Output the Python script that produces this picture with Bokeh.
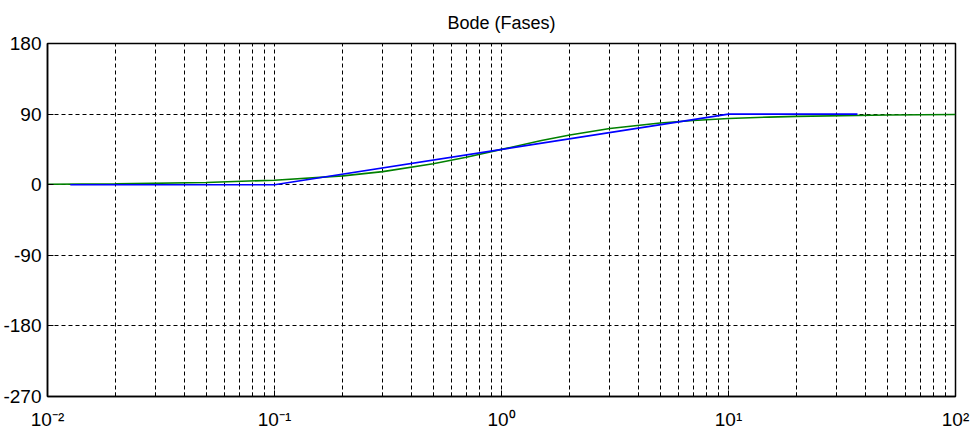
from bokeh.plotting import figure
from bokeh.models import FixedTicker, Range1d
from bokeh.embed import file_html
from bokeh.resources import INLINE

# Blue: asymptotic phase approximation
blue_w = [0.0126, 0.1, 10.0, 37.0]
blue_phase = [0.0, 0.0, 90.0, 90.0]

# Green: exact phase
green_w = [0.01, 0.02, 0.05, 0.1, 0.2, 0.3, 0.5, 0.7, 1.0, 1.5, 2.0, 3.0, 5.0, 7.0, 10.0, 15.0, 20.0, 50.0, 100.0]
green_phase = [0.6, 1.1, 2.9, 5.7, 11.3, 16.7, 26.6, 35.0, 45.0, 56.3, 63.4, 71.6, 78.7, 81.9, 84.3, 86.2, 87.1, 88.9, 89.4]

x_major = [0.01, 0.1, 1, 10, 100]
x_labels = ["10⁻²", "10⁻¹", "10⁰", "10¹", "10²"]
y_major = [-270, -180, -90, 0, 90, 180]
y_labels = ["-270", "-180", "-90", "0", "90", "180"]

x_minor = [m * d for d in [0.01, 0.1, 1, 10] for m in range(2, 10)]

p = figure(width=976, height=432, x_axis_type="log",
           x_range=Range1d(0.01, 100), y_range=Range1d(-270, 180),
           output_backend="svg", toolbar_location=None,
           min_border_left=40, min_border_right=21, min_border_top=0, min_border_bottom=33,
           title="Bode (Fases)")

p.title.align = "center"
p.title.vertical_align = "bottom"
p.title.text_font = "Liberation Sans"
p.title.text_font_size = "18px"
p.title.text_font_style = "normal"
p.title.text_color = "#000000"
p.title.text_line_height = 1.4
p.title.offset = 0
p.title.standoff = 21

p.xaxis.ticker = FixedTicker(ticks=x_major, minor_ticks=x_minor)
p.xaxis.major_label_overrides = {v: l for v, l in zip(x_major, x_labels)}
p.yaxis.ticker = FixedTicker(ticks=y_major)
p.yaxis.major_label_overrides = {v: l for v, l in zip(y_major, y_labels)}

for ax in (p.xaxis, p.yaxis):
    ax.major_label_text_font = "Liberation Sans"
    ax.major_label_text_font_size = "19px"
    ax.major_label_text_color = "#000000"
    ax.axis_line_color = "#000000"
    ax.axis_line_width = 1.5
    ax.major_tick_in = 6
    ax.major_tick_out = 0
    ax.major_tick_line_color = "#000000"
    ax.minor_tick_in = 4
    ax.minor_tick_out = 0
    ax.minor_tick_line_color = "#000000"

p.yaxis.major_label_standoff = 6
p.xaxis.major_label_standoff = 12
p.yaxis.minor_tick_line_color = None

p.xgrid.grid_line_color = "#000000"
p.xgrid.grid_line_dash = "4 3"
p.xgrid.grid_line_width = 1
p.xgrid.minor_grid_line_color = "#000000"
p.xgrid.minor_grid_line_dash = "4 3"
p.xgrid.minor_grid_line_width = 1
p.ygrid.grid_line_color = "#000000"
p.ygrid.grid_line_dash = "4 3"
p.ygrid.grid_line_width = 1

p.outline_line_color = "#000000"
p.outline_line_width = 1.5
p.background_fill_color = "white"
p.border_fill_color = "white"

p.line(green_w, green_phase, line_color="#008000", line_width=1.6)
p.line(blue_w, blue_phase, line_color="#0000ff", line_width=1.6)

open("out.html", "w").write(file_html(p, INLINE))
